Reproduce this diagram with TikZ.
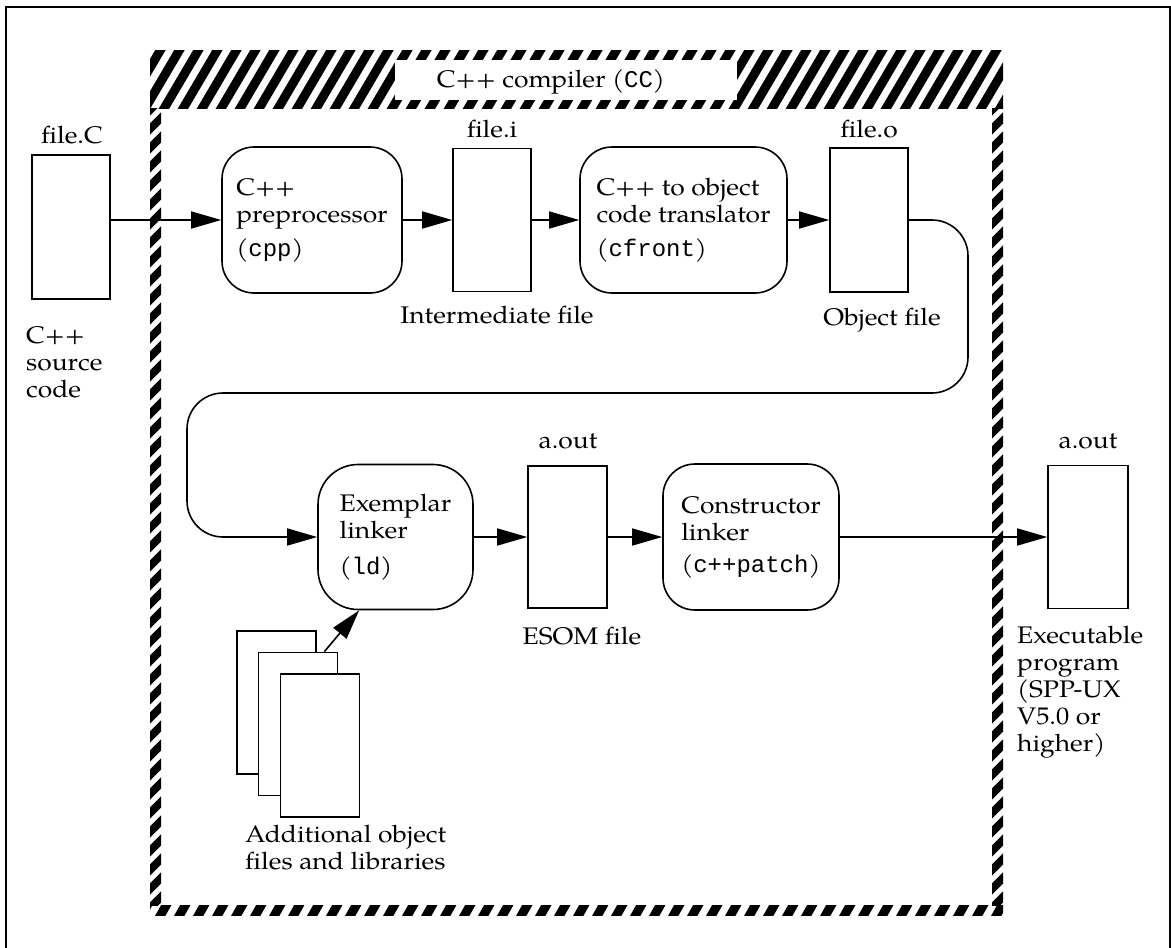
\documentclass[tikz,border=0pt]{standalone}
\usepackage{fontspec}
\setmainfont{TeX Gyre Pagella}[FakeStretch=1.1]
\setmonofont{Liberation Mono}
\usetikzlibrary{arrows.meta}
\begin{document}
\begin{tikzpicture}[x=1pt,y=-1pt,
 every node/.style={font=\fontsize{24}{27}\selectfont, inner sep=0pt},
 filebox/.style={draw, line width=1.6pt, minimum width=78pt, minimum height=144pt, fill=white},
 procbox/.style={draw, line width=1.6pt, rounded corners=32pt, align=left, fill=white},
 arr/.style={line width=1.6pt, -{Triangle[length=30pt,width=17pt]}},
 hatch/.style={line width=9pt},
 hatchv/.style={line width=8pt},
 lbl/.style={anchor=base},
 blk/.style={anchor=north west, align=left},
]
\useasboundingbox (0,0) rectangle (1171,948);
% outer frame
\draw[line width=1.5pt] (6,948) -- (6,7) -- (1170,7) -- (1170,948);
% hatched compiler border
\begin{scope}
 \clip (150,50) rectangle (1003,108);
 \foreach \i in {0,...,48} \draw[hatch] ({105+19*\i},112) -- ++(40,-68);
\end{scope}
\begin{scope}
 \clip (150,905) rectangle (1003,915);
 \foreach \i in {0,...,46} \draw[hatch] ({140+19*\i},918) -- ++(9,-16);
\end{scope}
\begin{scope}
 \clip (150,108) rectangle (161,905);
 \foreach \i in {0,...,44} \draw[hatchv] (145,{115+19*\i}) -- ++(20,-20);
\end{scope}
\begin{scope}
 \clip (992,108) rectangle (1003,905);
 \foreach \i in {0,...,44} \draw[hatchv] (987,{115+19*\i}) -- ++(20,-20);
\end{scope}
\fill[white] (395,60) rectangle (737,100);
\node[lbl] (title) at (551,87) {C++ compiler (\texttt{CC})};
% top row
\node[filebox] (fileC) at (71,227) {};
\node[lbl] (fileClbl) at (72,143) {file.C};
\node[blk] (srclbl) at (26,326) {C++\\source\\code};
\node[procbox, minimum width=180pt, minimum height=146pt] (pre) at (312,220) {C++\\preprocessor\\[7pt](\texttt{cpp})};
\node[filebox, minimum height=143pt] (filei) at (492,220) {};
\node[lbl] (fileilbl) at (492,137) {file.i};
\node[lbl] (interlbl) at (497,323) {Intermediate file};
\node[procbox, minimum width=207pt, minimum height=146pt] (cfront) at (683.5,220) {C++ to object\\code translator\\[7pt](\texttt{cfront})};
\node[filebox] (fileo) at (869,220) {};
\node[lbl] (fileolbl) at (869,137) {file.o};
\node[lbl] (objlbl) at (882,325) {Object file};
% bottom row
\node[procbox, rounded corners=40pt, minimum width=155pt, minimum height=145pt] (exem) at (395.5,537) {Exemplar\\linker\\[9pt](\texttt{ld})};
\node[filebox, minimum width=79pt, minimum height=142pt] (esom) at (567.5,537) {};
\node[lbl] (esomtop) at (568,448) {a.out};
\node[lbl] (esomlbl) at (582,644) {ESOM file};
\node[procbox, minimum width=176pt, minimum height=146pt] (cons) at (751,537) {Constructor\\linker\\[5pt](\texttt{c++patch})};
\node[filebox, minimum width=80pt, minimum height=143pt] (fin) at (1088,537) {};
\node[lbl] (fintop) at (1088,448) {a.out};
\node[blk] (finlbl) at (1017,626) {Executable\\program\\(SPP-UX\\V5.0 or\\higher)};
% additional object files
\node[filebox, minimum width=79pt, minimum height=143pt] (add1) at (276.5,702.5) {};
\node[filebox, minimum width=79pt, minimum height=143pt] (add2) at (298,724) {};
\node[filebox, minimum width=79pt, minimum height=143pt] (add3) at (320,745.5) {};
\node[blk] (addlbl) at (245,825) {Additional object\\files and libraries};
% connectors
\draw[arr] (fileC.east |- pre.west) -- (pre.west);
\draw[arr] (pre) -- (filei);
\draw[arr] (filei) -- (cfront);
\draw[arr] (cfront) -- (fileo);
\draw[arr, rounded corners=36pt] (fileo.east) -- (968,220) -- (968,393) -- (187,393) -- (187,537) -- (exem.west);
\draw[arr] (exem) -- (esom);
\draw[arr] (esom) -- (cons);
\draw[arr] (cons) -- (fin);
\draw[arr] ([xshift=-14pt]add2.north east) -- ([xshift=42pt]exem.south west);
\end{tikzpicture}
\end{document}
